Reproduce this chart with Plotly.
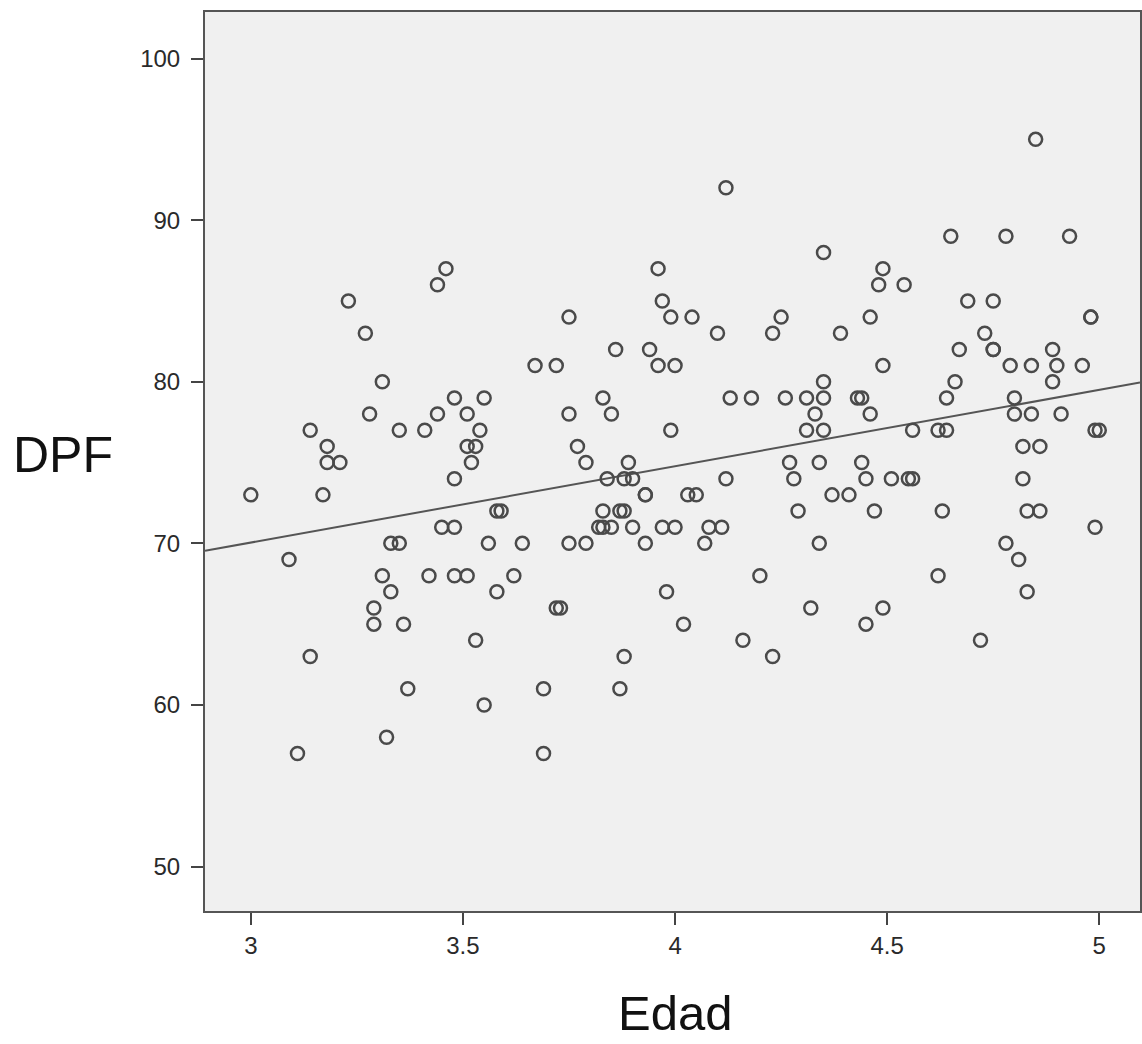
import numpy as np
import plotly.graph_objects as go

# Data (Edad vs DPF)
edad = [
    4.85,
    4.12,
    4.65, 4.78, 4.93,
    4.35,
    3.46, 3.96, 4.49,
    3.44, 4.48, 4.54,
    3.23, 3.97, 4.69, 4.75,
    3.75, 3.99, 4.04, 4.25, 4.46, 4.98, 4.98,
    3.27, 4.10, 4.23, 4.39, 4.73,
    3.86, 3.94, 4.67, 4.75, 4.75, 4.89,
    3.67, 3.72, 3.96, 4.00, 4.49, 4.79, 4.84, 4.90, 4.96,
    3.31, 4.35, 4.66, 4.89,
    3.48, 3.55, 3.83, 4.13, 4.18, 4.26, 4.31, 4.35, 4.43, 4.44, 4.64, 4.80,
    3.28, 3.44, 3.51, 3.75, 3.85, 4.33, 4.46, 4.80, 4.84, 4.91,
    3.14, 3.35, 3.41, 3.54, 3.99, 4.31, 4.35, 4.56, 4.62, 4.64, 4.99, 5.00,
    3.18, 3.51, 3.53, 3.77, 4.82, 4.86,
    3.18, 3.21, 3.52, 3.79, 3.89, 4.27, 4.34, 4.44,
    3.48, 3.84, 3.88, 3.90, 4.12, 4.28, 4.45, 4.51, 4.55, 4.56, 4.82,
    3.00, 3.17, 3.93, 3.93, 4.03, 4.05, 4.37, 4.41,
    3.58, 3.59, 3.83, 3.87, 3.88, 4.29, 4.47, 4.63, 4.83, 4.86,
    3.45, 3.48, 3.82, 3.83, 3.85, 3.90, 3.97, 4.00, 4.08, 4.11, 4.99,
    3.33, 3.35, 3.56, 3.64, 3.75, 3.79, 3.93, 4.07, 4.34, 4.78,
    3.09, 4.81,
    3.31, 3.42, 3.48, 3.51, 3.62, 4.20, 4.62,
    3.33, 3.58, 3.98, 4.83,
    3.29, 3.72, 3.73, 4.32, 4.49,
    3.29, 3.36, 4.02, 4.45,
    3.53, 4.16, 4.72,
    3.14, 3.88, 4.23,
    3.37, 3.69, 3.87,
    3.55,
    3.32,
    3.11, 3.69,
]
dpf = [
    95,
    92,
    89, 89, 89,
    88,
    87, 87, 87,
    86, 86, 86,
    85, 85, 85, 85,
    84, 84, 84, 84, 84, 84, 84,
    83, 83, 83, 83, 83,
    82, 82, 82, 82, 82, 82,
    81, 81, 81, 81, 81, 81, 81, 81, 81,
    80, 80, 80, 80,
    79, 79, 79, 79, 79, 79, 79, 79, 79, 79, 79, 79,
    78, 78, 78, 78, 78, 78, 78, 78, 78, 78,
    77, 77, 77, 77, 77, 77, 77, 77, 77, 77, 77, 77,
    76, 76, 76, 76, 76, 76,
    75, 75, 75, 75, 75, 75, 75, 75,
    74, 74, 74, 74, 74, 74, 74, 74, 74, 74, 74,
    73, 73, 73, 73, 73, 73, 73, 73,
    72, 72, 72, 72, 72, 72, 72, 72, 72, 72,
    71, 71, 71, 71, 71, 71, 71, 71, 71, 71, 71,
    70, 70, 70, 70, 70, 70, 70, 70, 70, 70,
    69, 69,
    68, 68, 68, 68, 68, 68, 68,
    67, 67, 67, 67,
    66, 66, 66, 66, 66,
    65, 65, 65, 65,
    64, 64, 64,
    63, 63, 63,
    61, 61, 61,
    60,
    58,
    57, 57,
]

x_ticks = [3, 3.5, 4, 4.5, 5]
x_tick_labels = ["3", "3.5", "4", "4.5", "5"]
y_ticks = [50, 60, 70, 80, 90, 100]
y_tick_labels = ["50", "60", "70", "80", "90", "100"]
x_range = [2.892, 5.096]
y_range = [47.25, 102.88]

# Linear fit line (from the data)
slope, intercept = np.polyfit(np.array(edad), np.array(dpf), 1)
fit_x = np.array(x_range)
fit_y = intercept + slope * fit_x

fig = go.Figure()
fig.add_trace(go.Scatter(
    x=fit_x, y=fit_y, mode="lines",
    line=dict(color="#555555", width=2),
    hoverinfo="skip", showlegend=False,
))
fig.add_trace(go.Scatter(
    x=edad, y=dpf, mode="markers",
    marker=dict(symbol="circle-open", size=13, color="#4a4a4a",
                line=dict(width=2.5, color="#4a4a4a")),
    showlegend=False,
))

axis_common = dict(
    showgrid=False, zeroline=False,
    showline=True, linecolor="#555555", linewidth=2, mirror=True,
    ticks="outside", ticklen=12, tickwidth=2, tickcolor="#444444",
    tickfont=dict(family="Liberation Sans, Arial, sans-serif", size=24, color="#2a2a2a"),
)

fig.update_layout(
    width=1142, height=1044,
    margin=dict(l=205, r=0, t=12, b=133),
    paper_bgcolor="white",
    plot_bgcolor="#f0f0f0",
    xaxis=dict(range=x_range, tickvals=x_ticks, ticktext=x_tick_labels, **axis_common),
    yaxis=dict(range=y_range, tickvals=y_ticks, ticktext=y_tick_labels,
               ticklabelstandoff=6, **axis_common),
    annotations=[
        dict(text="DPF", xref="paper", yref="paper", x=-0.208, y=0.507,
             xanchor="left", yanchor="middle", showarrow=False,
             font=dict(family="Liberation Sans, Arial, sans-serif", size=50, color="#111111")),
        dict(text="Edad", xref="paper", yref="paper", x=0.5027, y=-0.1457,
             xanchor="center", yanchor="bottom", showarrow=False,
             font=dict(family="Liberation Sans, Arial, sans-serif", size=49, color="#111111")),
    ],
)

fig.write_html("out.html", config={"displayModeBar": False},
               post_script="document.body.style.margin='0';")
